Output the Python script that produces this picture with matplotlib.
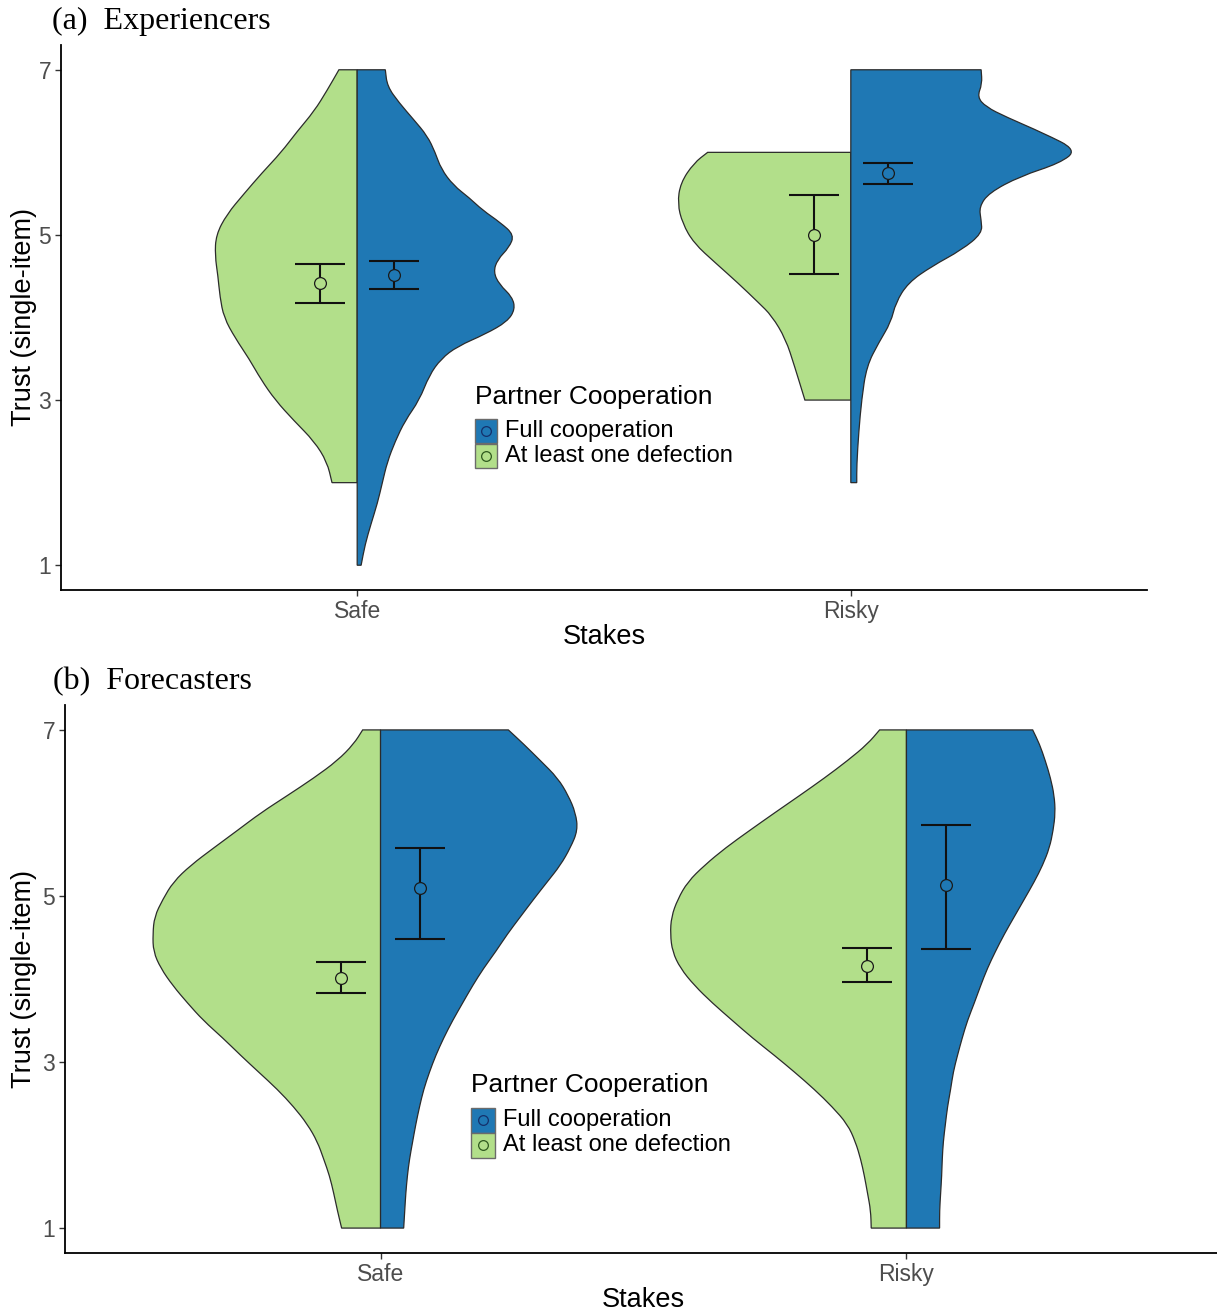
import numpy as np
import matplotlib
matplotlib.use("Agg")
import matplotlib.pyplot as plt
from matplotlib.path import Path
from matplotlib.patches import PathPatch, Rectangle
from matplotlib.lines import Line2D

# ---------------- data ----------------
stakes = ["Safe", "Risky"]
groups = ["Full cooperation", "At least one defection"]
y_ticks = [1, 3, 5, 7]

# Panel (a) Experiencers: violin half-width profiles (x-axis units) at trust levels
a_safe_defect_y = [7.0, 6.75, 6.5, 6.25, 6.0, 5.75, 5.5, 5.25, 5.0, 4.75, 4.5, 4.25,
                   4.0, 3.75, 3.5, 3.25, 3.0, 2.75, 2.5, 2.25, 2.0]
a_safe_defect_w = [.037, .061, .087, .122, .154, .193, .229, .264, .286, .288, .282, .278,
                   .270, .247, .219, .195, .166, .128, .087, .061, .051]

a_safe_coop_y = [7.0, 6.8, 6.6, 6.4, 6.2, 6.0, 5.8, 5.6, 5.45, 5.3, 5.15, 5.0, 4.85, 4.7,
                 4.55, 4.4, 4.25, 4.1, 3.95, 3.8, 3.65, 3.5, 3.3, 3.0, 2.75, 2.5, 2.25,
                 2.0, 1.75, 1.5, 1.25, 1.0]
a_safe_coop_w = [.057, .061, .085, .114, .142, .158, .170, .195, .227, .254, .290, .318,
                 .308, .284, .276, .288, .314, .320, .304, .260, .203, .170, .146, .126,
                 .097, .077, .061, .051, .041, .028, .016, .008]

a_risky_defect_y = [6.0, 5.87, 5.63, 5.38, 5.14, 4.9, 4.66, 4.42, 4.18, 4.02, 3.74, 3.41, 3.0]
a_risky_defect_w = [.290, .318, .345, .351, .341, .318, .274, .229, .187, .160, .132, .114, .093]

a_risky_coop_y = [7.0, 6.83, 6.67, 6.55, 6.43, 6.23, 6.03, 5.87, 5.71, 5.51, 5.34, 5.18,
                  5.02, 4.82, 4.62, 4.42, 4.18, 3.94, 3.70, 3.41, 3.01, 2.61, 2.21, 2.0]
a_risky_coop_w = [.264, .266, .256, .274, .314, .391, .458, .424, .343, .280, .260, .264,
                  .266, .225, .164, .116, .091, .081, .057, .032, .022, .016, .012, .012]

# Panel (a) means and 95% CI bounds (index 0 = Safe, 1 = Risky)
a_coop_mean = [4.51, 5.75]
a_coop_lo = [4.34, 5.62]
a_coop_hi = [4.68, 5.87]
a_defect_mean = [4.42, 5.00]
a_defect_lo = [4.18, 4.53]
a_defect_hi = [4.65, 5.48]

# Panel (b) Forecasters: profiles share one grid of trust levels
b_y = [7.0, 6.83, 6.63, 6.42, 6.21, 6.0, 5.79, 5.58, 5.37, 5.17, 4.96, 4.75, 4.54, 4.33,
       4.13, 3.92, 3.71, 3.5, 3.29, 3.08, 2.88, 2.67, 2.46, 2.25, 2.04, 1.83, 1.63, 1.42,
       1.21, 1.0]
b_safe_defect_w = [.034, .051, .082, .127, .177, .228, .272, .317, .361, .394, .414, .430,
                   .433, .432, .418, .395, .367, .337, .300, .266, .232, .196, .165, .139,
                   .120, .108, .097, .089, .082, .074]
b_safe_coop_w = [.243, .272, .304, .337, .357, .371, .375, .361, .342, .317, .291, .266,
                 .241, .219, .196, .175, .156, .137, .120, .105, .093, .082, .074, .067,
                 .061, .055, .051, .048, .046, .044]
b_risky_defect_w = [.051, .074, .112, .156, .203, .251, .298, .344, .384, .416, .435, .447,
                    .449, .445, .430, .403, .369, .331, .293, .251, .213, .175, .141, .112,
                    .097, .087, .080, .074, .068, .067]
b_risky_coop_w = [.240, .253, .264, .274, .281, .283, .279, .272, .259, .243, .224, .205,
                  .186, .169, .154, .141, .129, .116, .106, .097, .089, .084, .078, .074,
                  .070, .068, .067, .065, .063, .063]

b_coop_mean = [5.10, 5.13]
b_coop_lo = [4.48, 4.36]
b_coop_hi = [5.58, 5.86]
b_defect_mean = [4.01, 4.16]
b_defect_lo = [3.83, 3.96]
b_defect_hi = [4.20, 4.37]

# ---------------- style ----------------
COOP = "#1F78B4"
DEFECT = "#B2DF8A"
OUTLINE = "#2b2b2b"
SANS = ["Liberation Sans", "DejaVu Sans"]
SERIF = ["Liberation Serif", "DejaVu Serif"]

W, H = 1217, 1314
fig = plt.figure(figsize=(W / 100, H / 100), dpi=100)


def fx(px):
    return px / W


def fy(py):
    return 1 - py / H


def half_violin(ax, center, ys, ws, side, color):
    """Smooth half violin: side=-1 draws to the left, +1 to the right."""
    ys = np.asarray(ys, float)
    ws = np.asarray(ws, float)
    pts = np.column_stack([center + side * ws, ys])
    mids = (pts[:-1] + pts[1:]) / 2
    verts = [(center, ys[0]), tuple(pts[0]), tuple(mids[0])]
    codes = [Path.MOVETO, Path.LINETO, Path.LINETO]
    for i in range(1, len(pts) - 1):
        verts += [tuple(pts[i]), tuple(mids[i])]
        codes += [Path.CURVE3, Path.CURVE3]
    verts += [tuple(pts[-1]), (center, ys[-1]), (center, ys[0])]
    codes += [Path.LINETO, Path.LINETO, Path.CLOSEPOLY]
    ax.add_patch(PathPatch(Path(verts, codes), facecolor=color, edgecolor=OUTLINE,
                           linewidth=0.9, zorder=2))


def mean_ci(ax, x, m, lo, hi, color):
    ax.errorbar([x], [m], yerr=[[m - lo], [hi - m]], fmt="none", ecolor="#111111",
                elinewidth=1.5, capsize=18, capthick=1.5, zorder=3)
    ax.plot([x], [m], marker="o", ms=8.5, mfc=color, mec="#1a1a1a", mew=0.9,
            zorder=4, linestyle="none")


def style_axes(ax, ylabel_x):
    ax.set_xlim(0.4, 2.6)
    ax.set_ylim(0.7, 7.3)
    ax.set_xticks([1, 2])
    ax.set_xticklabels(stakes, family=SANS)
    ax.set_yticks(y_ticks)
    ax.set_yticklabels([str(t) for t in y_ticks], family=SANS)
    for s in ("top", "right"):
        ax.spines[s].set_visible(False)
    for s in ("left", "bottom"):
        ax.spines[s].set_linewidth(1.3)
        ax.spines[s].set_color("black")
    ax.tick_params(direction="out", length=4, width=1, color="#333333",
                   labelcolor="#4D4D4D", labelsize=16.5, pad=3)
    ax.set_xlabel("Stakes", family=SANS, fontsize=19.5, color="black", labelpad=1)
    ax.set_ylabel("Trust (single-item)", family=SANS, fontsize=19.5, color="black")
    ax.yaxis.set_label_coords(ylabel_x, 0.5)


def legend(x0, ytitle, y1, y2, box_w, box_h):
    fig.text(fx(x0), fy(ytitle), "Partner Cooperation", family=SANS, fontsize=19,
             va="center", ha="left")
    for yc, col, lab, mec in ((y1, COOP, groups[0], "#14306b"),
                              (y2, DEFECT, groups[1], "#2f5a1f")):
        fig.add_artist(Rectangle((fx(x0), fy(yc + box_h / 2)), box_w / W, box_h / H,
                                 transform=fig.transFigure, facecolor=col,
                                 edgecolor="#6b6b6b", linewidth=1.0))
        fig.add_artist(Line2D([fx(x0 + box_w / 2)], [fy(yc)], marker="o", ms=7,
                              mfc=col, mec=mec, mew=0.9, transform=fig.transFigure))
        fig.text(fx(x0 + box_w + 8), fy(yc), lab, family=SANS, fontsize=17,
                 va="center", ha="left")


OFF = 0.075

# ---------------- panel (a) ----------------
ax_a = fig.add_axes([fx(61), fy(590), (1147 - 61) / W, (590 - 45) / H])
half_violin(ax_a, 1, a_safe_defect_y, a_safe_defect_w, -1, DEFECT)
half_violin(ax_a, 1, a_safe_coop_y, a_safe_coop_w, +1, COOP)
half_violin(ax_a, 2, a_risky_defect_y, a_risky_defect_w, -1, DEFECT)
half_violin(ax_a, 2, a_risky_coop_y, a_risky_coop_w, +1, COOP)
for i in range(2):
    mean_ci(ax_a, i + 1 - OFF, a_defect_mean[i], a_defect_lo[i], a_defect_hi[i], DEFECT)
    mean_ci(ax_a, i + 1 + OFF, a_coop_mean[i], a_coop_lo[i], a_coop_hi[i], COOP)
style_axes(ax_a, (37 - 61) / (1147 - 61))
fig.text(fx(52), fy(21), "(a)  Experiencers", family=SERIF, fontsize=23,
         va="center", ha="left")
legend(475, 397, 431, 456, 22, 24)

# ---------------- panel (b) ----------------
ax_b = fig.add_axes([fx(65), fy(1253), (1222 - 65) / W, (1253 - 705) / H])
half_violin(ax_b, 1, b_y, b_safe_defect_w, -1, DEFECT)
half_violin(ax_b, 1, b_y, b_safe_coop_w, +1, COOP)
half_violin(ax_b, 2, b_y, b_risky_defect_w, -1, DEFECT)
half_violin(ax_b, 2, b_y, b_risky_coop_w, +1, COOP)
for i in range(2):
    mean_ci(ax_b, i + 1 - OFF, b_defect_mean[i], b_defect_lo[i], b_defect_hi[i], DEFECT)
    mean_ci(ax_b, i + 1 + OFF, b_coop_mean[i], b_coop_lo[i], b_coop_hi[i], COOP)
style_axes(ax_b, (37 - 65) / (1222 - 65))
fig.text(fx(53), fy(682), "(b)  Forecasters", family=SERIF, fontsize=23,
         va="center", ha="left")
legend(471, 1085, 1120, 1145, 24, 25)

fig.savefig("out.png", dpi=100, facecolor="white")
